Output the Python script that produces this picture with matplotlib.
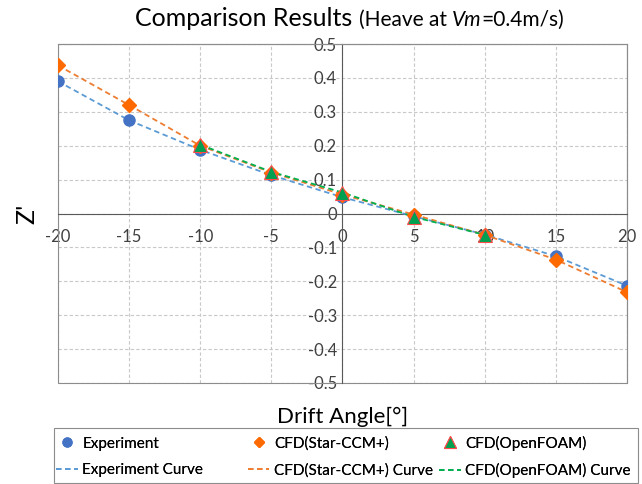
import matplotlib
matplotlib.use("Agg")
import matplotlib.pyplot as plt
from matplotlib.patches import Rectangle
from matplotlib.offsetbox import TextArea, HPacker, AnchoredOffsetbox

plt.rcParams['font.family'] = ['Lato', 'DejaVu Sans']
plt.rcParams['axes.unicode_minus'] = False

# data
angle = [-20, -15, -10, -5, 0, 5, 10, 15, 20]
exp_z = [0.390, 0.275, 0.188, 0.113, 0.048, -0.008, -0.062, -0.126, -0.213]
star_z = [0.437, 0.320, 0.200, 0.121, 0.056, -0.003, -0.063, -0.136, -0.232]
of_angle = [-10, -5, 0, 5, 10]
of_z = [0.203, 0.123, 0.062, -0.010, -0.063]

fig = plt.figure(figsize=(6.42, 4.84), dpi=100)
ax = fig.add_axes([0.0903, 0.2087, 0.8863, 0.7003])

grid_c = '#c8c8c8'
ax.set_xlim(-20, 20)
ax.set_ylim(-0.5, 0.5)
ax.set_xticks(range(-20, 21, 5))
ax.set_yticks([i / 10 for i in range(-5, 6)])
ax.set_yticklabels(['-0.5', '-0.4', '-0.3', '-0.2', '-0.1', '0', '0.1', '0.2', '0.3', '0.4', '0.5'])
ax.grid(True, linestyle=(0, (3, 2)), color=grid_c, linewidth=0.8)
ax.set_axisbelow(True)

for s in ['top', 'right']:
    ax.spines[s].set_color('#8c8c8c')
ax.spines['left'].set_position('zero')
ax.spines['bottom'].set_position('zero')
ax.spines['left'].set_color('#595959')
ax.spines['bottom'].set_color('#595959')
ax.add_patch(Rectangle((0, 0), 1, 1, transform=ax.transAxes, fill=False,
                       edgecolor='#8c8c8c', linewidth=0.8, clip_on=False))
ax.tick_params(axis='y', length=0, labelsize=12, colors='#404040', pad=4)
ax.tick_params(axis='x', length=0, labelsize=12, colors='#404040', pad=11)

# curves
ax.plot(angle, exp_z, linestyle=(0, (3, 2)), color='#5b9bd5', linewidth=1.3,
        label='Experiment Curve', zorder=3)
ax.plot(angle, star_z, linestyle=(0, (3, 2)), color='#ed7d31', linewidth=1.3,
        label='CFD(Star-CCM+) Curve', zorder=3)
ax.plot(of_angle, of_z, linestyle=(0, (3, 2)), color='#00b050', linewidth=1.3,
        label='CFD(OpenFOAM) Curve', zorder=3)

# markers
ax.plot(angle, exp_z, 'o', color='#4472c4', markersize=8, linestyle='none',
        label='Experiment', zorder=4)
ax.plot(angle, star_z, 'D', color='#ff6a00', markersize=7, linestyle='none',
        label='CFD(Star-CCM+)', zorder=5)
ax.plot(of_angle, of_z, '^', color='#00a050', markeredgecolor='#ff4b4b',
        markeredgewidth=0.8, markersize=10, linestyle='none',
        label='CFD(OpenFOAM)', zorder=6)

ax.set_ylabel("Z'", fontsize=18)
ax.yaxis.set_label_coords(-0.035, 0.5)
ax.set_xlabel('Drift Angle[°]', fontsize=16)
ax.xaxis.set_label_coords(0.5, -0.07)

# title with mixed sizes
parts = [
    TextArea('Comparison Results ', textprops=dict(fontsize=18, color='#000000')),
    TextArea('(Heave at ', textprops=dict(fontsize=15, color='#000000')),
    TextArea('Vm', textprops=dict(fontsize=15, style='italic', color='#000000')),
    TextArea('=0.4m/s)', textprops=dict(fontsize=15, color='#000000')),
]
title = AnchoredOffsetbox(loc='center', child=HPacker(children=parts, align='baseline', pad=0, sep=0),
                          frameon=False, bbox_to_anchor=(0.545, 0.962),
                          bbox_transform=fig.transFigure, pad=0, borderpad=0)
fig.add_artist(title)

# legend: three columns placed like the Excel legend
h, l = ax.get_legend_handles_labels()
col_x = [0.088, 0.386, 0.684]
for k, (mi, ci) in enumerate([(3, 0), (4, 1), (5, 2)]):
    leg = fig.legend([h[mi], h[ci]], [l[mi], l[ci]], loc='center left',
                     bbox_to_anchor=(col_x[k], 0.056), fontsize=11,
                     frameon=False, handlelength=1.4, handletextpad=0.3,
                     borderpad=0, borderaxespad=0, labelspacing=0.8,
                     markerscale=0.8)
    fig.add_artist(leg)
fig.add_artist(Rectangle((0.0842, 0.002), 0.91, 0.114, transform=fig.transFigure,
                         fill=False, edgecolor='#8c8c8c', linewidth=0.8))

fig.savefig('out.png', dpi=100)
